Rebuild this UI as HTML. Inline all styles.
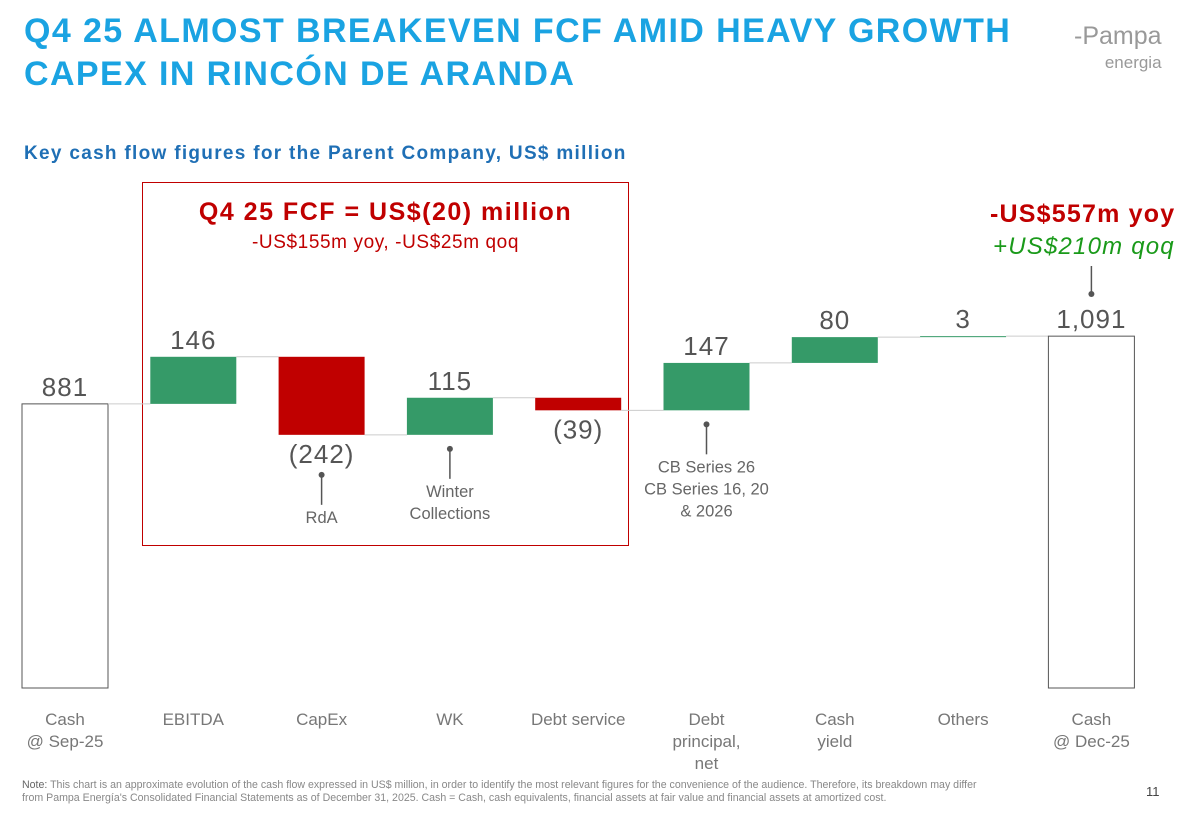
<!DOCTYPE html>
<html><head><meta charset="utf-8"><style>
body{margin:0;width:1177px;height:815px;background:#fff;overflow:hidden;font-family:"Liberation Sans",sans-serif;position:relative}
.t{position:absolute;white-space:nowrap}
</style></head><body>
<div class="t" style="left:24px;top:10px;font-size:34px;font-weight:bold;color:#1aa3e2;line-height:43px;letter-spacing:1.4px">Q4 25 ALMOST BREAKEVEN FCF AMID HEAVY GROWTH<br>CAPEX IN RINCÓN DE ARANDA</div>
<div class="t" style="left:1074px;top:24px;font-size:25px;color:#999;line-height:24px;text-align:right">-Pampa<br><span style="font-size:17px;padding-left:28px">energia</span></div>
<div class="t" style="left:24px;top:143px;font-size:19px;font-weight:bold;color:#1f6fb5;letter-spacing:1.3px">Key cash flow figures for the Parent Company, US$ million</div>
<div style="position:absolute;left:142px;top:182px;width:485px;height:362px;border:1.5px solid #c00000"></div>
<div class="t" style="left:142px;width:487px;text-align:center;top:198px;font-size:25px;font-weight:bold;color:#c00000;letter-spacing:1.5px">Q4 25 FCF = US$(20) million</div>
<div class="t" style="left:142px;width:487px;text-align:center;top:232px;font-size:19px;color:#c00000;letter-spacing:0.6px">-US$155m yoy, -US$25m qoq</div>
<div class="t" style="left:990px;top:200px;font-size:25px;font-weight:bold;color:#c00000;letter-spacing:1.2px">-US$557m yoy</div>
<div class="t" style="left:993px;top:233px;font-size:24px;font-style:italic;color:#1a9a1a;letter-spacing:1.2px">+US$210m qoq</div>
<svg id="chart" width="1177" height="815" style="position:absolute;left:0;top:0"></svg>
<div class="t" style="left:22px;top:779px;font-size:10.6px;color:#888;line-height:13px"><span style="color:#666">Note:</span> This chart is an approximate evolution of the cash flow expressed in US$ million, in order to identify the most relevant figures for the convenience of the audience. Therefore, its breakdown may differ<br>from Pampa Energía's Consolidated Financial Statements as of December 31, 2025. Cash = Cash, cash equivalents, financial assets at fair value and financial assets at amortized cost.</div>
<div class="t" style="left:1146px;top:784px;font-size:13px;color:#444">11</div>
<script>
const categories=["Cash\n@ Sep-25","EBITDA","CapEx","WK","Debt service","Debt\nprincipal,\nnet","Cash\nyield","Others","Cash\n@ Dec-25"];
const values=[881,146,-242,115,-39,147,80,3,1091];
const kinds=["total","delta","delta","delta","delta","delta","delta","delta","total"];
const valueLabels=["881","146","(242)","115","(39)","147","80","3","1,091"];
const notes=[null,null,"RdA","Winter\nCollections",null,"CB Series 26\nCB Series 16, 20\n& 2026",null,null,null];
const svg=document.getElementById('chart');const NS='http://www.w3.org/2000/svg';
const y0=688,k=0.3225,x0=22,step=128.3,bw=86;
const Y=v=>y0-v*k, X=i=>x0+i*step;
function mk(t,a){const e=document.createElementNS(NS,t);for(const n in a)e.setAttribute(n,a[n]);svg.appendChild(e);return e;}
let run=0;
values.forEach((v,i)=>{
 let a,b;
 if(kinds[i]==="total"){a=0;b=v;run=v;}else{a=run;b=run+v;run=b;}
 const top=Math.max(a,b),bot=Math.min(a,b);
 const fill=kinds[i]==="total"?"#fff":(v>=0?"#359a68":"#c00000");
 const r=mk('rect',{x:X(i),y:Y(top),width:bw,height:Math.max(1,Y(bot)-Y(top)),fill:fill,stroke:kinds[i]==="total"?"#555":"none","stroke-width":1});
 
 
 if(i<values.length-1){const l=mk('line',{x1:X(i)+bw,x2:X(i+1),y1:Y(run),y2:Y(run),stroke:"#ccc","stroke-width":1});
  
  }
 const neg=kinds[i]==="delta"&&v<0;
 const t=mk('text',{x:X(i)+bw/2,y:neg?Y(bot)+28:Y(top)-8,"text-anchor":"middle","font-size":26,fill:"#555","font-family":"Liberation Sans","letter-spacing":1});
 t.textContent=valueLabels[i];
 
 
 categories[i].split("\n").forEach((s,j)=>{const c=mk('text',{x:X(i)+bw/2,y:725+j*22,"text-anchor":"middle","font-size":17,fill:"#777","font-family":"Liberation Sans"});c.textContent=s;
  
  });
 if(notes[i]){const ly=neg?Y(bot)+40:Y(bot)+14;const cx=X(i)+bw/2;
  mk('circle',{cx:cx,cy:ly,r:3,fill:"#555"});mk('line',{x1:cx,x2:cx,y1:ly,y2:ly+30,stroke:"#555","stroke-width":1.5});
  notes[i].split("\n").forEach((s,j)=>{const c=mk('text',{x:cx,y:ly+48+j*22,"text-anchor":"middle","font-size":16.5,fill:"#666","font-family":"Liberation Sans"});c.textContent=s;
   
   });}
});
const cx=X(8)+bw/2;mk('line',{x1:cx,x2:cx,y1:266,y2:294,stroke:"#555","stroke-width":1.5});mk('circle',{cx:cx,cy:294,r:3,fill:"#555"});
</script>
</body></html>
